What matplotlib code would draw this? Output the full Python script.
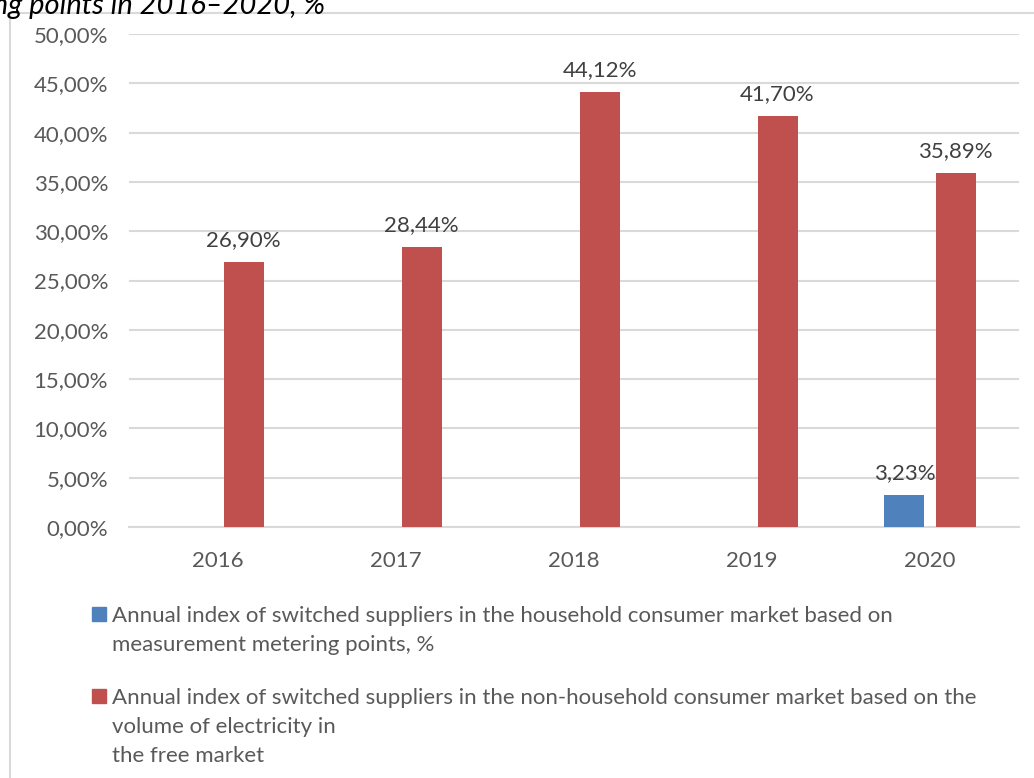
import numpy as np
import matplotlib.pyplot as plt
from matplotlib.patches import Rectangle
from matplotlib.lines import Line2D
from matplotlib.ticker import FuncFormatter, MultipleLocator

plt.rcParams['font.family'] = ['Lato', 'DejaVu Sans']

# dati: indice annuo di cambio fornitore
anni = ['2016', '2017', '2018', '2019', '2020']
famiglie = [None, None, None, None, 3.23]
non_famiglie = [26.90, 28.44, 44.12, 41.70, 35.89]

serie_nomi = [
    'Annual index of switched suppliers in the household consumer market based on\n'
    'measurement metering points, %',
    'Annual index of switched suppliers in the non-household consumer market based on the\n'
    'volume of electricity in\nthe free market',
]
colori = ['#4F81BD', '#C0504D']
titolo = 'metering points in 2016\u20132020, %'

grigio = '#D9D9D9'
testo = '#595959'


def percento(v):
    return f'{v:.2f}'.replace('.', ',') + '%'


fig = plt.figure(figsize=(10.34, 7.78), dpi=100)
ax = fig.add_axes([129 / 1034, 1 - 527 / 778, 890 / 1034, 493 / 778])

x = np.arange(len(anni))
w = 0.225
off = (w + 0.062) / 2

for i, (a, b) in enumerate(zip(famiglie, non_famiglie)):
    if a is not None:
        ax.bar(x[i] - off, a, w, color=colori[0], zorder=3)
        ax.text(x[i] - off, a + 1.2, percento(a), ha='center', va='bottom',
                fontsize=16, color='#404040')
    ax.bar(x[i] + off, b, w, color=colori[1], zorder=3)
    ax.text(x[i] + off, b + 1.2, percento(b), ha='center', va='bottom',
            fontsize=16, color='#404040')

ax.set_xlim(-0.5, len(anni) - 0.5)
ax.set_ylim(0, 50)
ax.yaxis.set_major_locator(MultipleLocator(5))
ax.yaxis.set_major_formatter(FuncFormatter(lambda v, p: percento(v)))
ax.set_xticks(x)
ax.set_xticklabels(anni)
ax.grid(axis='y', color=grigio, linewidth=1.5, zorder=0)
for s in ['top', 'right', 'left']:
    ax.spines[s].set_visible(False)
ax.spines['bottom'].set_color(grigio)
ax.spines['bottom'].set_linewidth(1.5)
ax.tick_params(axis='both', length=0, labelsize=16, labelcolor=testo)
ax.tick_params(axis='y', pad=15)
ax.tick_params(axis='x', pad=17)

# legenda disegnata a mano, con il quadratino accanto alla prima riga
leg_base = [622, 704]
for nome, col, yb in zip(serie_nomi, colori, leg_base):
    fig.patches.append(Rectangle((92 / 1034, 1 - (yb - 1) / 778), 14 / 1034, 14 / 778,
                                 transform=fig.transFigure, color=col))
    fig.text(112 / 1034, 1 - (yb - 16) / 778, nome, ha='left', va='top',
             fontsize=16, color=testo, linespacing=1.55)

# cornice del grafico
fig.lines.append(Line2D([10 / 1034, 10 / 1034], [0, 1 - 13 / 778],
                        transform=fig.transFigure, color=grigio, linewidth=1.5))
fig.lines.append(Line2D([10 / 1034, 1], [1 - 13 / 778, 1 - 13 / 778],
                        transform=fig.transFigure, color=grigio, linewidth=1.5))

fig.text(325 / 1034, 1 - 14 / 778, titolo, ha='right', va='baseline',
         fontsize=21, style='italic', color='black')

fig.savefig('out.png', dpi=100)
